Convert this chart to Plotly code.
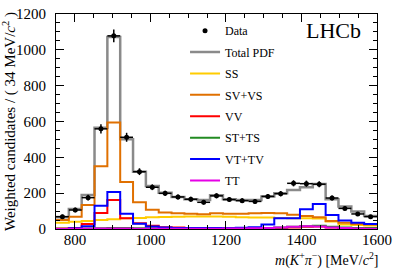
import plotly.graph_objects as go

# ---- data (25 bins of 34 MeV from 750 to 1600) ----
bin_lo = 750
bin_w = 34
data_vals = [69, 106, 175, 559, 1078, 512, 320, 233, 199, 179, 166, 149, 185,
             164, 158, 154, 182, 197, 255, 253, 250, 173, 115, 84, 69]
data_errs = [11, 13, 16, 26, 36, 25, 19, 16, 15, 14, 14, 13, 14,
             13, 13, 13, 14, 15, 17, 17, 17, 14, 12, 10, 9]
total_pdf = [65, 112, 190, 565, 1071, 501, 320, 240, 203, 179, 166, 162, 188,
             166, 162, 162, 181, 199, 218, 233, 251, 166, 125, 97, 73]
ss = [35, 40, 45, 50, 55, 60, 62, 65, 67, 68, 70, 70, 70,
      68, 66, 64, 64, 62, 60, 60, 58, 42, 25, 22, 20]
sv_vs = [50, 69, 134, 350, 594, 262, 150, 108, 92, 88, 85, 82, 88,
         85, 85, 88, 90, 88, 80, 72, 65, 45, 35, 28, 25]
vv = [3, 6, 28, 90, 162, 60, 32, 18, 10, 8, 6, 5, 5,
      4, 4, 4, 5, 6, 8, 12, 14, 8, 5, 4, 3]
st_ts = [1, 2, 3, 4, 5, 5, 4, 4, 3, 3, 3, 3, 3,
         3, 4, 5, 6, 8, 12, 16, 18, 12, 8, 6, 5]
vt_tv = [0, 4, 15, 130, 206, 85, 30, 14, 8, 6, 5, 5, 5,
         6, 7, 10, 25, 60, 60, 110, 140, 78, 48, 35, 28]
tt = [0, 1, 2, 3, 3, 3, 2, 2, 2, 2, 2, 2, 2,
      3, 3, 4, 5, 8, 12, 16, 14, 8, 5, 3, 2]

n = len(data_vals)
edges = [bin_lo + bin_w * i for i in range(n + 1)]
centers = [bin_lo + bin_w * (i + 0.5) for i in range(n)]

FONT = "Liberation Serif"

fig = go.Figure()

rank = [2]

def step(vals, name, color, width=2):
    fig.add_trace(go.Scatter(
        x=edges, y=list(vals) + [vals[-1]], mode="lines", line_shape="hv",
        line=dict(color=color, width=width), name=name, legendgroup=name,
        legendrank=rank[0]))
    rank[0] += 1

step(total_pdf, "Total PDF", "#8a8a8a", 2.5)
step(ss, "SS", "#ffcc00")
step(sv_vs, "SV+VS", "#e07000")
step(vv, "VV", "#ff0000")
step(st_ts, "ST+TS", "#228b22")
step(vt_tv, "VT+TV", "#0000ff")
step(tt, "TT", "#e600e6")
fig.add_trace(go.Scatter(
    x=centers, y=data_vals, mode="markers", name="Data", legendgroup="Data",
    legendrank=1,
    marker=dict(color="black", size=5, symbol="circle"),
    error_y=dict(type="data", array=data_errs, color="black", thickness=1.5, width=0),
    error_x=dict(type="constant", value=bin_w / 2, color="black", thickness=1.5, width=0)))

axis_common = dict(
    showline=True, linecolor="black", linewidth=1, mirror="allticks",
    ticks="inside", ticklen=8, tickcolor="black", tickwidth=1,
    showgrid=False, zeroline=False, automargin=False,
    tickfont=dict(family=FONT, size=15, color="black"),
)

fig.update_layout(
    width=399, height=272,
    margin=dict(l=56, r=22, t=14, b=43),
    paper_bgcolor="white", plot_bgcolor="white",
    font=dict(family=FONT, color="black"),
    showlegend=True,
    legend=dict(
        x=0.402, y=0.99, xanchor="left", yanchor="top",
        bgcolor="rgba(0,0,0,0)", font=dict(family=FONT, size=12, color="black"),
        itemwidth=30, tracegroupgap=2.4, traceorder="grouped",
    ),
    xaxis=dict(range=[750, 1600], dtick=200, tick0=800,
               minor=dict(dtick=50, ticklen=4, ticks="inside", tickcolor="black"),
               ticklabelstandoff=-3,
               **axis_common),
    yaxis=dict(range=[0, 1200], dtick=200,
               minor=dict(dtick=50, ticklen=4, ticks="inside", tickcolor="black"),
               ticklabelstandoff=6,
               title=dict(text="Weighted candidates / ( 34 MeV/<i>c</i><sup>2</sup> )",
                          font=dict(family=FONT, size=15, color="black"), standoff=3),
               **axis_common),
    annotations=[
        dict(text="LHCb", x=0.957, y=0.925, xref="paper", yref="paper",
             xanchor="right", yanchor="middle", showarrow=False,
             font=dict(family=FONT, size=22, color="black")),
        dict(text="<i>m</i>(<i>K</i><sup>+</sup><i>π</i><sup>−</sup>) [MeV/<i>c</i><sup>2</sup>]",
             x=1.012, y=-0.088, xref="paper", yref="paper",
             xanchor="right", yanchor="top", showarrow=False,
             font=dict(family=FONT, size=14, color="black")),
    ],
)

fig.write_html("out.html", config={"displayModeBar": False},
               post_script="document.body.style.margin='0';document.body.style.overflow='hidden';")
